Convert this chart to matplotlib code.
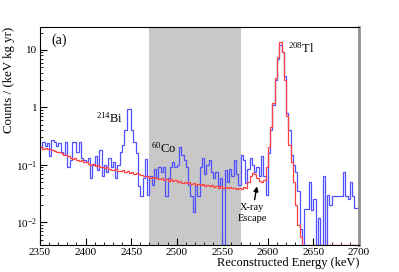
import numpy as np
import matplotlib
matplotlib.use("Agg")
import matplotlib.pyplot as plt
from matplotlib.ticker import FixedLocator, FixedFormatter, MultipleLocator, LogLocator, NullFormatter

plt.rcParams['font.family'] = ['Liberation Serif', 'DejaVu Serif']
plt.rcParams['mathtext.fontset'] = 'custom'
plt.rcParams['mathtext.rm'] = 'Liberation Serif'
plt.rcParams['mathtext.it'] = 'Liberation Serif:italic'

# histogram binning (keV)
e_lo, e_hi, bin_w = 2350, 2700, 2.5

# measured spectrum (blue), counts / (keV kg yr), 2.5 keV bins
data_counts = [
    0.20, 0.25, 0.21, 0.24,   0.14, 0.27, 0.25, 0.21,   0.24, 0.17, 0.15, 0.25,
    0.09, 0.12, 0.25, 0.25,   0.17, 0.25, 0.13, 0.12,   0.11, 0.13, 0.06, 0.10,
    0.14, 0.08, 0.18, 0.065,  0.10, 0.075, 0.13, 0.09,  0.11, 0.06, 0.10, 0.17,
    0.22, 0.41, 0.92, 0.92,   0.41, 0.25, 0.16, 0.043,  0.029, 0.06, 0.125, 0.03,
    0.064, 0.045, 0.085, 0.06, 0.09, 0.075, 0.09, 0.029, 0.06, 0.09, 0.11, 0.09,
    0.10, 0.20, 0.15, 0.12,   0.09, 0.045, 0.029, 0.015, 0.045, 0.029, 0.09, 0.13,
    0.07, 0.10, 0.12, 0.075,  0.06, 0.075, 0.043, 0.06,  0.0, 0.08, 0.05, 0.085,
    0.065, 0.12, 0.07, 0.045, 0.15, 0.12, 0.049, 0.085, 0.13, 0.10, 0.075, 0.09,
    0.065, 0.14, 0.064, 0.03, 0.16, 0.4, 1.1, 3.0,      7.0, 12.0, 9.0, 3.5,
    0.8, 0.4, 0.15, 0.10,     0.074, 0.035, 0.0076, 0.0, 0.017, 0.017, 0.05, 0.016,
    0.025, 0.0, 0.012, 0.0,   0.064, 0.0, 0.03, 0.02,   0.029, 0.029, 0.029, 0.029,
    0.029, 0.074, 0.029, 0.025, 0.05, 0.029, 0.018, 0.018,
]

# background model (red)
model_counts = [
    0.20, 0.19, 0.195, 0.185,  0.19, 0.18, 0.175, 0.17,   0.165, 0.16, 0.15, 0.145,
    0.14, 0.13, 0.125, 0.13,   0.12, 0.115, 0.12, 0.11,   0.11, 0.105, 0.10, 0.105,
    0.095, 0.10, 0.092, 0.09,  0.088, 0.09, 0.085, 0.082, 0.08, 0.083, 0.078, 0.077,
    0.08, 0.075, 0.077, 0.073, 0.075, 0.07, 0.072, 0.068, 0.067, 0.065, 0.063, 0.064,
    0.06, 0.062, 0.058, 0.06,  0.057, 0.059, 0.055, 0.056, 0.053, 0.056, 0.052, 0.054,
    0.05, 0.053, 0.049, 0.051, 0.048, 0.05, 0.046, 0.048, 0.045, 0.047, 0.044, 0.046,
    0.043, 0.045, 0.042, 0.044, 0.041, 0.043, 0.04, 0.042, 0.04, 0.041, 0.039, 0.041,
    0.039, 0.04, 0.038, 0.04,  0.038, 0.041, 0.039, 0.05,  0.065, 0.072, 0.07, 0.06,
    0.052, 0.051, 0.055, 0.09, 0.2, 0.45, 1.2, 3.2,      7.5, 13.5, 9.0, 3.0,
    0.7, 0.22, 0.11, 0.05,     0.02, 0.009, 0.0055, 0.0,
] + [0.0] * 24

roi = (2470, 2570)
y_lo, y_hi = 0.004, 25

edges = np.arange(e_lo, e_hi + bin_w / 2, bin_w)
blue = np.array(data_counts)
red = np.array(model_counts)
# empty bins drop to the frame bottom
blue = np.where(blue > 0, blue, y_lo)
red = np.where(red > 0, red, y_lo)

fig = plt.figure(figsize=(3.99, 2.72), dpi=100)
ax = fig.add_axes([0.1003, 0.099, 0.7994, 0.8017])

ax.axvspan(roi[0], roi[1], color='#c8c8c8', lw=0, zorder=0)
ax.stairs(blue, edges, color='#5050ff', lw=0.9, zorder=2, baseline=None)
ax.stairs(red, edges, color='#ff4040', lw=0.9, zorder=3, baseline=None)

ax.set_yscale('log')
ax.set_xlim(e_lo, e_hi)
ax.set_ylim(y_lo, y_hi)

ax.xaxis.set_major_locator(MultipleLocator(50))
ax.xaxis.set_minor_locator(MultipleLocator(10))
ax.yaxis.set_major_locator(FixedLocator([0.01, 0.1, 1, 10]))
ax.yaxis.set_major_formatter(FixedFormatter([r'$10^{-2}$', r'$10^{-1}$', '1', '10']))
ax.yaxis.set_minor_locator(LogLocator(base=10, subs=np.arange(2, 10)))
ax.yaxis.set_minor_formatter(NullFormatter())
ax.tick_params(which='both', direction='in', labelsize=8, pad=2)
ax.tick_params(which='major', length=5)
ax.tick_params(which='minor', length=2.5)

for s in ['left', 'bottom', 'top']:
    ax.spines[s].set_linewidth(0.8)
ax.spines['right'].set_linewidth(2.0)
ax.spines['right'].set_color('#909090')

ax.set_xlabel('Reconstructed Energy (keV)', fontsize=9, loc='right', labelpad=0)
ax.set_ylabel('Counts / (keV kg yr)', fontsize=9.3, loc='top', labelpad=1)

ax.text(0.035, 0.97, '(a)', transform=ax.transAxes, fontsize=10, va='top', ha='left')
ax.text(2426, 0.55, r'$^{214}$Bi', fontsize=9, ha='center', va='baseline')
ax.text(2486, 0.16, r'$^{60}$Co', fontsize=9, ha='center', va='baseline')
ax.text(2637, 9.0, r'$^{208}$Tl', fontsize=9, ha='center', va='baseline')
ax.annotate('X-ray\nEscape', xy=(2588, 0.042), xytext=(2583, 0.022),
            fontsize=7.5, ha='center', va='top', linespacing=1.3,
            arrowprops=dict(arrowstyle='-|>', color='black', lw=1.0,
                            mutation_scale=7, shrinkA=0, shrinkB=0))

fig.savefig('out.png', dpi=100)
